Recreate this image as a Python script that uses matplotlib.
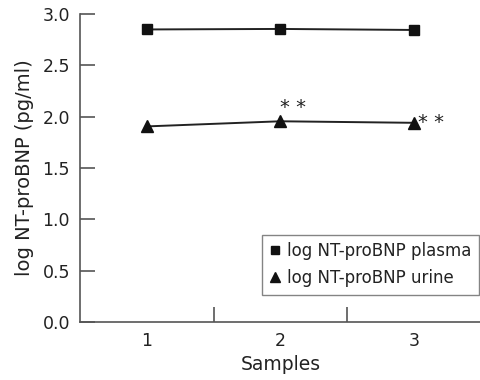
import numpy as np
import matplotlib.pyplot as plt

# Valeurs
samples = [1, 2, 3]
plasma = [2.85, 2.855, 2.845]
urine = [1.905, 1.955, 1.94]
sample_labels = ["1", "2", "3"]
y_ticks = [0.0, 0.5, 1.0, 1.5, 2.0, 2.5, 3.0]

plt.rcParams['font.family'] = ['DejaVu Sans']

fig = plt.figure(figsize=(4.81, 3.80), dpi=100)
ax = fig.add_axes([0.166, 0.153, 0.834, 0.810])

line_col = "#222222"
ax.plot(samples, plasma, color=line_col, lw=1.4, marker="s", ms=7,
        mfc="#111111", mec="#111111", label="log NT-proBNP plasma")
ax.plot(samples, urine, color=line_col, lw=1.4, marker="^", ms=8,
        mfc="#111111", mec="#111111", label="log NT-proBNP urine")

# Astérisques de significativité
ax.annotate("* *", (samples[1], urine[1]), xytext=(0, 3), textcoords="offset points",
            ha="left", va="bottom", fontsize=14, color="#222222")
ax.annotate("* *", (samples[2], urine[2]), xytext=(3, 0), textcoords="offset points",
            ha="left", va="center", fontsize=14, color="#222222")

ax.set_xlim(0.5, 3.5)
ax.set_ylim(0, 3.0)
ax.set_xticks(samples)
ax.set_xticklabels(sample_labels)
ax.set_xticks([1.5, 2.5], minor=True)
ax.set_yticks(y_ticks)
ax.set_yticklabels([f"{v:.1f}" for v in y_ticks])

spine_col = "#555555"
for s in ["top", "right"]:
    ax.spines[s].set_visible(False)
for s in ["left", "bottom"]:
    ax.spines[s].set_color(spine_col)
    ax.spines[s].set_linewidth(1.2)

ax.tick_params(axis="x", which="major", length=0, pad=7, labelsize=12.5, labelcolor="#222222")
ax.tick_params(axis="x", which="minor", direction="in", length=11, width=1.2, color=spine_col)
ax.tick_params(axis="y", direction="in", length=11, width=1.2, color=spine_col, pad=7,
               labelsize=12.5, labelcolor="#222222")

ax.set_xlabel("Samples", fontsize=13.5, labelpad=4, color="#222222")
ax.set_ylabel("log NT-proBNP (pg/ml)", fontsize=14, labelpad=6, color="#222222")

leg = ax.legend(loc="lower right", bbox_to_anchor=(0.995, 0.088), borderaxespad=0,
                fontsize=12, frameon=True, fancybox=False, handlelength=0.7,
                handletextpad=0.35, borderpad=0.45, labelspacing=0.55, markerscale=0.85)
for h in leg.legend_handles:
    h.set_linestyle("")
for t in leg.get_texts():
    t.set_color("#222222")
leg.get_frame().set_edgecolor("#666666")
leg.get_frame().set_linewidth(1.0)

fig.savefig("out.png", dpi=100)
